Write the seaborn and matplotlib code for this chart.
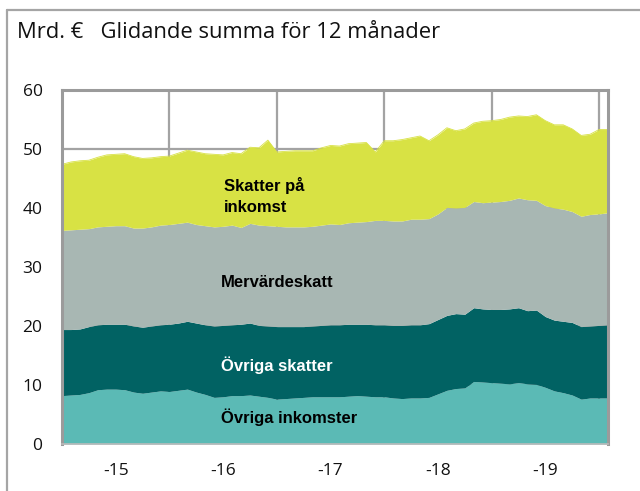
import numpy as np
import pandas as pd
import matplotlib
matplotlib.use("Agg")
import matplotlib.pyplot as plt
from matplotlib.lines import Line2D
from matplotlib.ticker import FixedLocator, NullFormatter
import seaborn as sns

# ---- data (Mrd. €, 12-month rolling sums, monthly 2015-01 .. 2020-02) ----
months = pd.date_range("2015-01-01", periods=62, freq="MS")

ovriga_inkomster = [8.2, 8.3, 8.4, 8.7, 9.2, 9.3, 9.3, 9.2, 8.8, 8.6, 8.8, 9.0,
                    8.9, 9.1, 9.3, 8.8, 8.4, 7.9, 8.0, 8.2, 8.2, 8.3, 8.1, 7.9,
                    7.6, 7.7, 7.8, 7.9, 8.0, 8.0, 8.0, 8.0, 8.1, 8.2, 8.1, 8.0,
                    8.0, 7.8, 7.7, 7.8, 7.8, 7.9, 8.5, 9.1, 9.4, 9.5, 10.6, 10.5,
                    10.4, 10.3, 10.2, 10.4, 10.2, 10.1, 9.6, 9.0, 8.7, 8.3, 7.6, 7.8,
                    7.8, 7.8]
ovriga_skatter = [11.2, 11.1, 11.1, 11.2, 11.0, 11.0, 11.0, 11.1, 11.2, 11.2, 11.2, 11.2,
                  11.4, 11.4, 11.5, 11.7, 11.8, 12.1, 12.1, 12.0, 12.1, 12.2, 12.0, 12.1,
                  12.3, 12.2, 12.1, 12.0, 12.0, 12.1, 12.2, 12.2, 12.2, 12.1, 12.2, 12.2,
                  12.2, 12.3, 12.4, 12.4, 12.4, 12.5, 12.6, 12.7, 12.7, 12.5, 12.5, 12.4,
                  12.4, 12.5, 12.7, 12.7, 12.4, 12.6, 12.0, 12.0, 12.1, 12.3, 12.3, 12.2,
                  12.3, 12.4]
mervardeskatt = [16.8, 16.9, 16.9, 16.6, 16.6, 16.6, 16.7, 16.7, 16.6, 16.8, 16.8, 16.9,
                 16.9, 16.9, 16.8, 16.7, 16.8, 16.8, 16.8, 16.9, 16.4, 16.9, 17.0, 17.0,
                 17.0, 16.9, 16.9, 16.9, 16.9, 17.0, 17.1, 17.0, 17.2, 17.3, 17.4, 17.7,
                 17.7, 17.7, 17.7, 17.9, 17.9, 17.8, 17.9, 18.3, 17.9, 18.1, 18.0, 18.0,
                 18.2, 18.3, 18.4, 18.6, 18.8, 18.6, 18.8, 19.0, 19.0, 18.8, 18.7, 18.9,
                 18.9, 19.0]
skatter_pa_inkomst = [11.2, 11.5, 11.6, 11.6, 11.8, 12.1, 12.1, 12.2, 12.1, 11.8, 11.7, 11.6,
                      11.6, 11.9, 12.2, 12.3, 12.2, 12.3, 12.1, 12.3, 12.5, 12.9, 13.1, 14.5,
                      12.6, 12.8, 12.9, 12.9, 12.8, 13.1, 13.3, 13.3, 13.4, 13.4, 13.4, 11.6,
                      13.5, 13.6, 13.8, 13.8, 14.1, 13.2, 13.4, 13.5, 13.1, 13.3, 13.3, 13.8,
                      13.8, 13.9, 14.1, 13.9, 14.1, 14.5, 14.4, 14.1, 14.3, 14.0, 13.7, 13.6,
                      14.3, 14.1]

series_names = ["Övriga inkomster", "Övriga skatter", "Mervärdeskatt", "Skatter på\ninkomst"]
series_colors = ["#5BBAB5", "#016263", "#A8B7B3", "#D8E244"]
year_labels = ["-15", "-16", "-17", "-18", "-19"]
y_ticks = [0, 10, 20, 30, 40, 50, 60]

# ---- build ----
df = pd.DataFrame({
    "m": np.arange(len(months)),
    "Övriga inkomster": ovriga_inkomster,
    "Övriga skatter": ovriga_skatter,
    "Mervärdeskatt": mervardeskatt,
    "Skatter på inkomst": skatter_pa_inkomst,
})
df["total"] = df[["Övriga inkomster", "Övriga skatter", "Mervärdeskatt", "Skatter på inkomst"]].sum(axis=1)

sns.set_theme(style="white")
plt.rcParams["font.family"] = ["Open Sans", "DejaVu Sans"]

fig = plt.figure(figsize=(6.4, 4.91), dpi=100)
ax = fig.add_axes([62 / 640, 1 - 444 / 491, (608 - 62) / 640, (444 - 90) / 491])

ax.set_axisbelow(True)
ax.stackplot(df["m"], df["Övriga inkomster"], df["Övriga skatter"],
             df["Mervärdeskatt"], df["Skatter på inkomst"],
             colors=series_colors, linewidth=0, zorder=2)
sns.lineplot(data=df, x="m", y="total", ax=ax, color=series_colors[3],
             linewidth=0.6, zorder=2)

ax.set_xlim(0, len(months) - 1)
ax.set_ylim(0, 60)
ax.set_xlabel("")
ax.set_ylabel("")

# year boundaries (gridlines) and mid-year labels
year_starts = [i for i, d in enumerate(months) if d.month == 1 and i > 0]
mid_years = [i for i, d in enumerate(months) if d.month == 7]
ax.xaxis.set_major_locator(FixedLocator(year_starts))
ax.xaxis.set_major_formatter(NullFormatter())
ax.xaxis.set_minor_locator(FixedLocator(mid_years))
ax.set_xticklabels(year_labels, minor=True)
ax.set_yticks(y_ticks)
ax.set_yticklabels([str(v) for v in y_ticks])

ax.grid(True, which="major", color="#A3A3A3", linewidth=1.6)
ax.tick_params(axis="both", which="both", length=0, labelsize=12.5,
               labelcolor="#111111")
ax.tick_params(axis="x", which="minor", pad=14)
ax.tick_params(axis="y", pad=14)
for s in ax.spines.values():
    s.set_visible(True)
    s.set_color("#9B9B9B")
    s.set_linewidth(2.2)
ax.spines["bottom"].set_linewidth(1.2)
ax.spines["bottom"].set_color("#BBBBBB")

# series labels inside areas
lab_font = ["Liberation Sans Narrow", "Liberation Sans", "DejaVu Sans"]
lab_size = 12
ax.text(18.1, 42.0, series_names[3], color="black", fontsize=lab_size, fontweight="bold",
        family=lab_font, va="center", ha="left", linespacing=1.45, zorder=5)
ax.text(17.8, 27.3, series_names[2], color="black", fontsize=lab_size, fontweight="bold",
        family=lab_font, va="center", ha="left", zorder=5)
ax.text(17.8, 13.4, series_names[1], color="white", fontsize=lab_size, fontweight="bold",
        family=lab_font, va="center", ha="left", zorder=5)
ax.text(17.8, 4.6, series_names[0], color="black", fontsize=lab_size, fontweight="bold",
        family=lab_font, va="center", ha="left", zorder=5)

# title
fig.text(17 / 640, 1 - 33 / 491, "Mrd. €   Glidande summa för 12 månader",
         fontsize=15.8, color="#111111", va="center", ha="left")

# figure frame (left and top edges)
fig.add_artist(Line2D([7 / 640, 7 / 640], [0, 1 - 10 / 491], transform=fig.transFigure,
                      color="#A5A5A5", linewidth=1.6))
fig.add_artist(Line2D([7 / 640, 1], [1 - 10 / 491, 1 - 10 / 491], transform=fig.transFigure,
                      color="#A5A5A5", linewidth=1.6))

fig.savefig("out.png", dpi=100, facecolor="white")
